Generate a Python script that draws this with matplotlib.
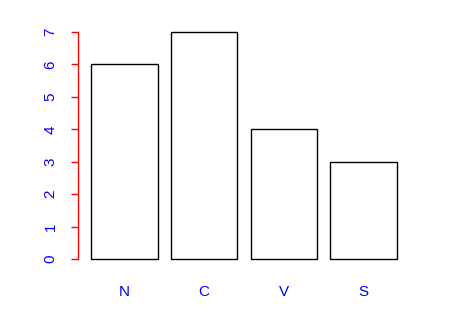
import matplotlib
matplotlib.use("Agg")
import matplotlib.pyplot as plt

categories = ["N", "C", "V", "S"]
values = [6, 7, 4, 3]
yticks = [0, 1, 2, 3, 4, 5, 6, 7]

plt.rcParams['font.family'] = ['Liberation Sans', 'DejaVu Sans']

fig = plt.figure(figsize=(4.51, 3.28), dpi=100)
ax = fig.add_axes([78.8/451, 60/328, 330.4/451, 245/328])

xs = [0.7 + 1.2*i for i in range(len(categories))]
ax.bar(xs, values, width=1.0, facecolor='white', edgecolor='black', linewidth=1.0)
ax.set_xlim(0.016, 4.984)
ax.set_ylim(-0.28, 7.28)

for s in ['top', 'right', 'bottom']:
    ax.spines[s].set_visible(False)
ax.spines['left'].set_bounds(0, 7)
ax.spines['left'].set_color('red')
ax.spines['left'].set_linewidth(1.0)
ax.spines['left'].set_position(('data', 0.0))

ax.set_yticks(yticks)
ax.set_yticklabels([str(t) for t in yticks], rotation=90, va='center')
ax.tick_params(axis='y', colors='red', labelcolor='blue', length=5, width=1.0, pad=9.5, labelsize=11)

ax.set_xticks(xs)
ax.set_xticklabels(categories)
ax.tick_params(axis='x', length=0, labelcolor='blue', pad=12, labelsize=11)

fig.savefig("out.png", dpi=100)
